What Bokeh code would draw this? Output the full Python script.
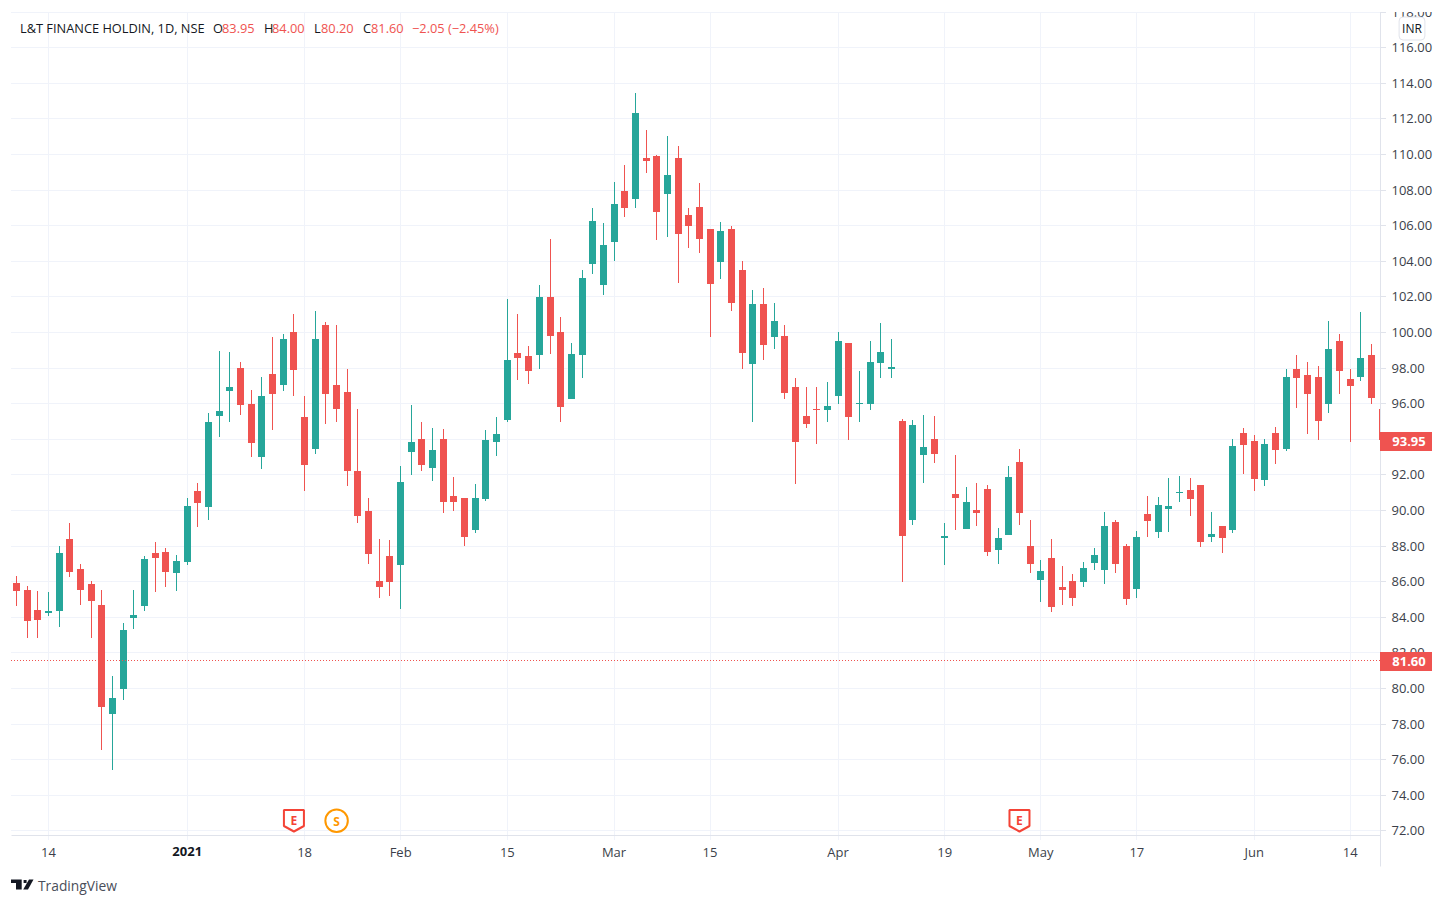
import math
from bokeh.plotting import figure
from bokeh.models import (Range1d, FixedTicker, Label, PolyAnnotation, ColumnDataSource)
from bokeh.embed import file_html
from bokeh.resources import INLINE

opens = [85.93,85.53,84.41,84.24,84.35,88.4,86.71,85.87,84.69,78.57,79.97,83.96,84.63,87.61,87.67,86.49,87.1,91.1,90.2,95.31,96.71,98.0,95.98,
         93.0,97.67,97.05,100.03,95.25,93.45,100.42,97.05,96.66,92.22,89.97,86.04,87.44,86.94,93.29,94.0,92.39,94.0,90.82,90.7,88.9,90.65,93.85,
         95.11,98.83,98.66,98.71,101.97,100.01,96.24,98.71,103.83,102.65,105.06,107.93,107.48,109.78,109.89,107.76,109.78,106.58,107.03,105.79,103.94,105.79,103.49,98.21,
         101.6,99.75,99.8,96.94,95.31,95.7,95.65,96.43,99.41,95.98,95.98,98.29,97.95,95.03,89.47,93.12,94.0,88.45,90.93,88.96,90.03,91.21,87.78,88.63,
         92.73,88.01,86.1,87.33,85.7,86.04,85.99,87.05,86.66,89.36,88.01,85.59,89.81,88.79,90.09,90.98,91.15,91.43,88.51,89.13,88.91,
         94.35,93.9,91.71,94.35,93.45,97.95,97.61,97.5,95.98,99.52,97.39,97.5,98.74,95.7]
highs = [86.32,85.76,85.48,85.42,88.0,89.3,87.0,86.04,85.53,80.7,83.68,85.53,87.44,88.23,87.89,87.5,90.7,91.55,95.47,98.96,98.9,98.34,96.77,
         97.5,99.75,99.92,101.04,96.43,101.2,100.59,100.42,97.95,95.7,90.7,88.4,88.34,92.5,95.93,94.97,94.63,94.58,91.88,90.7,91.49,94.52,95.25,
         101.86,101.02,99.22,102.65,105.23,100.85,99.39,103.49,106.97,106.13,108.43,109.39,113.43,111.35,109.95,111.02,110.46,106.97,108.38,105.79,106.19,105.96,103.99,102.36,
         102.5,101.66,100.42,97.44,96.94,96.94,97.22,100.03,99.41,97.84,99.52,100.53,99.63,95.14,95.08,95.37,95.31,89.3,93.12,91.32,91.54,91.43,89.02,92.5,
         93.46,89.47,87.22,88.4,86.88,86.43,87.11,87.9,89.92,89.47,88.12,88.85,90.82,90.76,91.83,91.94,91.83,91.43,89.92,89.13,94.02,
         94.63,94.24,94.02,94.69,97.95,98.74,98.34,98.12,100.64,99.92,97.95,101.15,99.35,95.7]
lows = [84.63,82.84,82.84,84.07,83.46,86.26,84.69,82.84,76.55,75.42,79.35,83.34,84.35,85.42,85.7,85.48,86.94,89.07,89.47,94.13,94.97,95.37,93.0,
        92.33,94.52,96.71,96.43,91.1,93.17,94.86,94.97,91.38,89.3,87.0,85.08,85.2,84.47,92.0,92.22,91.66,89.86,89.97,88.0,88.73,90.53,93.06,
        94.95,97.31,97.09,97.93,98.77,94.95,96.24,97.42,103.26,102.08,104.0,106.47,106.97,108.94,105.17,105.34,102.76,104.72,104.44,99.72,102.98,101.19,97.93,94.95,
        98.46,99.07,96.26,91.49,94.63,93.74,94.97,95.98,93.96,94.97,95.65,97.44,97.44,85.98,89.19,91.54,92.67,86.94,88.9,88.96,89.13,87.44,87.0,88.63,
        89.19,86.49,84.86,84.3,84.69,84.64,85.7,86.66,85.87,86.49,84.69,85.09,88.51,88.46,88.79,90.48,89.69,87.95,88.23,87.61,88.74,
        92.05,91.1,91.38,92.61,93.34,95.76,94.3,93.96,95.48,96.55,93.85,97.28,95.98,93.95]
closes = [85.48,83.79,83.85,84.35,87.61,86.55,85.53,84.92,78.96,79.47,83.29,84.13,87.28,87.33,86.55,87.16,90.25,90.42,94.97,95.59,96.94,95.93,93.79,
          96.43,96.55,99.63,97.89,92.56,99.63,96.55,95.7,92.22,89.69,87.55,85.7,85.98,91.6,93.85,92.56,93.4,90.48,90.48,88.51,90.7,93.96,94.3,
          98.43,98.55,97.82,101.97,99.78,95.8,98.77,103.04,106.24,104.89,107.2,106.97,112.31,109.61,106.75,108.83,105.51,105.96,105.23,102.7,105.68,101.64,98.83,101.58,
          99.3,100.65,96.6,93.85,94.86,95.65,95.87,99.52,95.25,96.04,98.34,98.9,98.06,88.57,94.8,93.57,93.17,88.57,90.7,90.48,89.86,87.67,88.45,91.88,
          89.86,87.0,86.6,84.58,85.54,85.09,86.77,87.5,89.13,87.0,85.03,88.51,89.41,90.31,90.25,91.04,90.65,88.23,88.68,88.46,93.63,
          93.68,91.77,93.74,93.4,97.5,97.44,96.55,95.03,99.07,97.84,96.99,98.57,96.32,93.95]

x_tick_index = [3, 16, 27, 36, 46, 56, 65, 77, 87, 96, 105, 116, 125]
x_tick_labels = ["14", "2021", "18", "Feb", "15", "Mar", "15", "Apr", "19", "May", "17", "Jun", "14"]
y_ticks = list(range(72, 120, 2))
last_close = 81.60
live_price = 93.95
earnings_index = [26, 94]
split_index = [30]
marker_price = 72.57

UP, DOWN = "#26a69a", "#ef5350"
GRID, AXIS = "#f0f3fa", "#e0e3eb"
TEXT = "#131722"
FONT = "Open Sans"
W, H = 1450, 900
SHIFT = 0.5  # half-pixel offset of the SVG drawing surface
LEFT, TOP, RIGHT, BOTTOM = 11, 12, 1380, 835
BAR0, BAR_STEP = 16.5, 10.67
PRICE0, PRICE0_PY, PX_PER_UNIT = 80.0, 688.5, 17.8

def x_of_px(px):
    return (px - BAR0) / BAR_STEP
def px_of_x(x):
    return BAR0 + BAR_STEP * x
def price_of_py(py):
    return PRICE0 + (PRICE0_PY - py) / PX_PER_UNIT
def py_of_price(v):
    return PRICE0_PY - (v - PRICE0) * PX_PER_UNIT
def crisp_x(x):
    return x_of_px(math.floor(px_of_x(x)) + 0.5)
def crisp_y(v):
    return price_of_py(math.floor(py_of_price(v)) + 0.5)
def edge_y(v):
    return price_of_py(round(py_of_price(v)))
def sx(px):
    return px - SHIFT
def sy(py):
    return H - py + SHIFT

def rect(l, r, t, b, color, level="overlay"):
    p.add_layout(PolyAnnotation(xs=[sx(l), sx(r), sx(r), sx(l)], ys=[sy(t), sy(t), sy(b), sy(b)],
                                xs_units="screen", ys_units="screen", fill_color=color, fill_alpha=1,
                                line_color=None, level=level))

p = figure(width=W, height=H, output_backend="svg", toolbar_location=None, tools="",
           x_range=Range1d(x_of_px(SHIFT), x_of_px(W + SHIFT)),
           y_range=Range1d(price_of_py(H + SHIFT), price_of_py(SHIFT)),
           y_axis_location="right", min_border=0, background_fill_color="white",
           border_fill_color="white", outline_line_color=None)
p.grid.visible = False

gx = [crisp_x(i) for i in x_tick_index]
gy = [crisp_y(t) for t in y_ticks]
p.segment(gx, [price_of_py(TOP)] * len(gx), gx, [price_of_py(BOTTOM + 5)] * len(gx), line_color=GRID, line_width=1, level="underlay")
p.segment([x_of_px(LEFT)] * len(gy), gy, [x_of_px(RIGHT)] * len(gy), gy, line_color=GRID, line_width=1, level="underlay")

xs = [crisp_x(i) for i in range(len(opens))]
colors = [UP if c >= o else DOWN for o, c in zip(opens, closes)]
src = ColumnDataSource(dict(x=xs, o=[edge_y(v) for v in opens], h=[edge_y(v) for v in highs],
                            l=[edge_y(v) for v in lows], c=[edge_y(v) for v in closes], color=colors))
p.segment("x", "h", "x", "l", source=src, line_color="color", line_width=1)
p.vbar("x", 7 / BAR_STEP, "o", "c", source=src, fill_color="color", line_color=None)

# Everything right of the price axis hides the still-forming bar
p.quad(left=[x_of_px(RIGHT)], right=[x_of_px(W + SHIFT)], top=[price_of_py(SHIFT)], bottom=[price_of_py(H + SHIFT)],
       fill_color="white", line_color=None)
p.segment([x_of_px(RIGHT)] * len(gy), gy, [x_of_px(RIGHT + 6)] * len(gy), gy, line_color=AXIS, line_width=1)

for ax in (p.xaxis[0], p.yaxis[0]):
    ax.axis_line_color = AXIS
    ax.major_tick_line_color = None
    ax.minor_tick_line_color = None
    ax.major_tick_in = 0
    ax.major_tick_out = 0
    ax.major_label_text_font = FONT
    ax.major_label_text_font_size = "13px"
    ax.major_label_text_color = "#3b3f4a"
xa, ya = p.xaxis[0], p.yaxis[0]
xa.fixed_location = price_of_py(BOTTOM + 0.5)
xa.bounds = (x_of_px(LEFT), x_of_px(RIGHT + 1))
xa.ticker = FixedTicker(ticks=x_tick_index)
xa.major_label_overrides = {i: (t if t != "2021" else " ") for i, t in zip(x_tick_index, x_tick_labels)}
xa.major_label_standoff = 7
ya.fixed_location = x_of_px(RIGHT + 0.5)
ya.bounds = (price_of_py(866), price_of_py(TOP))
ya.ticker = FixedTicker(ticks=y_ticks)
ya.major_label_overrides = {t: f"{t:.2f}" for t in y_ticks}
ya.major_label_standoff = 11

p.add_layout(Label(x=x_tick_index[1], y=sy(851), x_units="data", y_units="screen", text="2021",
                   text_font=FONT, text_font_size="13px", text_font_style="bold", text_color=TEXT,
                   text_align="center", text_baseline="middle"))

# Clip the outermost price labels
rect(1381, W, 0, TOP, "white")
rect(1381, W, BOTTOM, 848, "white")

# Last-price line and tags
p.segment([x_of_px(LEFT)], [crisp_y(last_close - 0.03)], [x_of_px(RIGHT)], [crisp_y(last_close - 0.03)],
          line_color=DOWN, line_width=1, line_dash="1 2")
for tag_top, tag_bot, txt in [(652, 671, f"{last_close:.2f}"), (432, 451, f"{live_price:.2f}")]:
    rect(1380, 1432, tag_top, tag_bot, DOWN)
    p.add_layout(Label(x=sx(1409), y=sy((tag_top + tag_bot) / 2), x_units="screen", y_units="screen", text=txt,
                       text_font=FONT, text_font_size="13px", text_font_style="bold", text_color="white",
                       text_align="center", text_baseline="middle", level="overlay"))

# Currency badge
p.add_layout(Label(x=sx(1412), y=sy(28.5), x_units="screen", y_units="screen", text="INR", text_font=FONT,
                   text_font_size="12px", text_color=TEXT, text_align="center", text_baseline="middle",
                   level="overlay", background_fill_color="white", border_line_color=AXIS,
                   border_radius=4, padding=3))

# Legend line
RED_TXT = "#ef5350"
for left, txt, col in [(20, "L&T FINANCE HOLDIN, 1D, NSE", TEXT), (213, "O", TEXT), (222, "83.95", RED_TXT),
                       (264, "H", TEXT), (272, "84.00", RED_TXT), (314, "L", TEXT), (321, "80.20", RED_TXT),
                       (363, "C", TEXT), (371, "81.60", RED_TXT), (412, "\u22122.05 (\u22122.45%)", RED_TXT)]:
    p.add_layout(Label(x=sx(left), y=sy(28), x_units="screen", y_units="screen", text=txt, text_font=FONT,
                       text_font_size="12.8px", text_color=col, text_align="left", text_baseline="middle"))

# Event markers
for idx in earnings_index:
    cx = px_of_x(idx)
    p.add_layout(PolyAnnotation(xs=[sx(cx - 10), sx(cx + 10), sx(cx + 10), sx(cx), sx(cx - 10)],
                                ys=[sy(810), sy(810), sy(826), sy(831.5), sy(826)],
                                xs_units="screen", ys_units="screen", fill_color="white", fill_alpha=1,
                                line_color="#f44336", line_width=2, line_alpha=1))
    p.add_layout(Label(x=idx, y=sy(820.5), x_units="data", y_units="screen", text="E", text_font=FONT,
                       text_font_size="12px", text_font_style="bold", text_color="#f44336",
                       text_align="center", text_baseline="middle"))
for idx in split_index:
    p.scatter([idx], [marker_price], marker="circle", size=22.5, fill_color="white", line_color="#ff9800", line_width=2)
    p.add_layout(Label(x=idx, y=sy(821.5), x_units="data", y_units="screen", text="S", text_font=FONT,
                       text_font_size="12px", text_font_style="bold", text_color="#ff9800",
                       text_align="center", text_baseline="middle"))

# Attribution logo
LOGO = "#131722"
for poly_x, poly_y in [([11, 21.7, 21.7, 16, 16, 11], [879.5, 879.5, 889.5, 889.5, 883, 883]),
                       ([29, 33.5, 28, 23.2], [879.5, 879.5, 889.5, 889.5]),
                       ([23.6, 26.6, 26.6, 23.6], [880, 880, 883, 883])]:
    p.add_layout(PolyAnnotation(xs=[sx(v) for v in poly_x], ys=[sy(v) for v in poly_y], xs_units="screen",
                                ys_units="screen", fill_color=LOGO, fill_alpha=1, line_color=None, level="overlay"))
p.add_layout(Label(x=sx(38), y=sy(885), x_units="screen", y_units="screen", text="TradingView", text_font=FONT,
                   text_font_size="13.8px", text_color="#4a4e5a", text_align="left", text_baseline="middle"))

open("out.html", "w").write(file_html(p, INLINE))
